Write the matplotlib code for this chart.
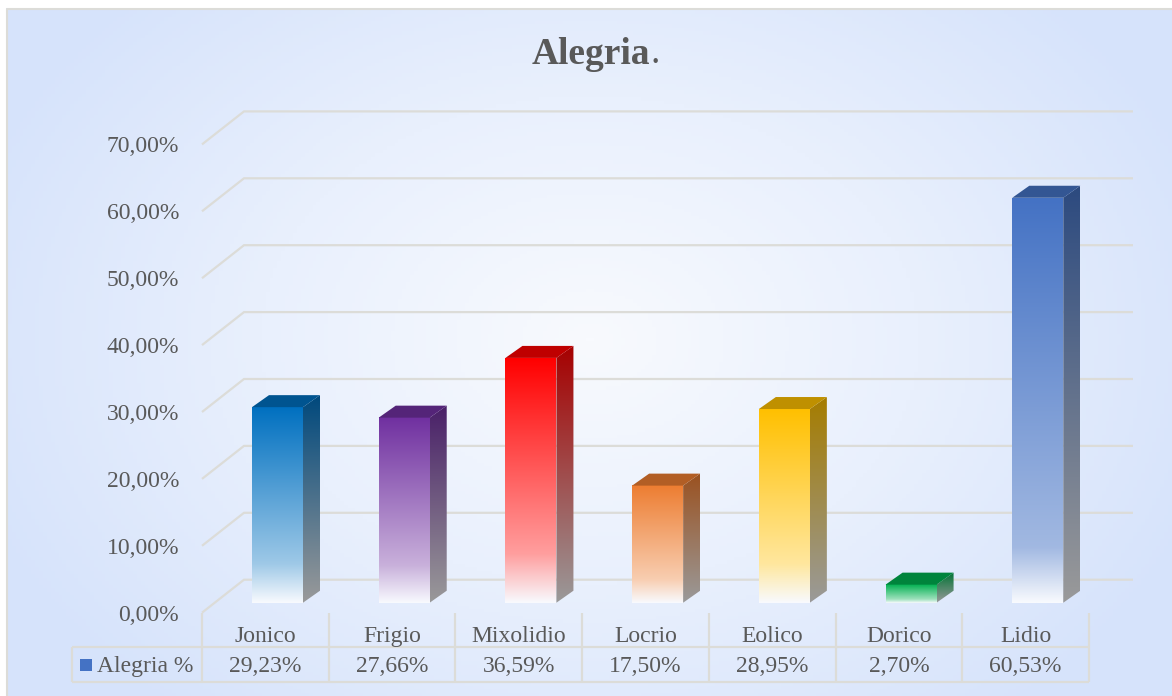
import numpy as np
import matplotlib
matplotlib.use('Agg')
import matplotlib.pyplot as plt
from matplotlib.colors import LinearSegmentedColormap, to_rgb
from matplotlib.patches import Polygon, Rectangle

plt.rcParams['font.family'] = ['Liberation Serif', 'DejaVu Serif']
plt.rcParams['lines.solid_capstyle'] = 'butt'

# DATA
modes = ['Jonico', 'Frigio', 'Mixolidio', 'Locrio', 'Eolico', 'Dorico', 'Lidio']
alegria = [29.23, 27.66, 36.59, 17.50, 28.95, 2.70, 60.53]
value_labels = ['29,23%', '27,66%', '36,59%', '17,50%', '28,95%', '2,70%', '60,53%']
bar_colors = ['#0070c0', '#7030a0', '#ff0000', '#ed7d31', '#ffc000', '#00b050', '#4472c4']
y_ticks = [0, 10, 20, 30, 40, 50, 60, 70]
y_tick_labels = ['0,00%', '10,00%', '20,00%', '30,00%', '40,00%', '50,00%', '60,00%', '70,00%']

W, H = 1172, 696
TEXT = '#595959'
LINE = '#dcdcd8'
FONT = 17

fig = plt.figure(figsize=(W / 100, H / 100), dpi=100)

# 1. BACKGROUND
bg = fig.add_axes([0, 0, 1, 1], zorder=0)
bg.set_xlim(0, W)
bg.set_ylim(H, 0)
bg.axis('off')
xx, yy = np.meshgrid(np.linspace(0, W, 300), np.linspace(0, H, 200))
r = np.clip(np.hypot((xx - 590) / 660, (yy - 340) / 490), 0, 1)
bg_cmap = LinearSegmentedColormap.from_list('bg', ['#f8fafe', '#e9f0fd', '#d6e3fb'])
im = bg.imshow(r, extent=[0, W, H, 0], cmap=bg_cmap, vmin=0, vmax=1, aspect='auto')
bg.add_patch(Rectangle((0, 0), W, 8, color='white', lw=0, zorder=3))
bg.add_patch(Rectangle((0, 0), 6, H, color='white', lw=0, zorder=3))
bg.plot([6.5, 6.5, W], [H, 8.5, 8.5], color=LINE, lw=1.5, zorder=4)

# 2. MAIN AXES = front plane of the 3D box
left, right, y0, y70 = 202, 1089, 612.7, 144.4
ax = fig.add_axes([left / W, 1 - y0 / H, (right - left) / W, (y0 - y70) / H], zorder=1)
ax.patch.set_alpha(0)
for s in ax.spines.values():
    s.set_visible(False)

col_px = (right - left) / 7
pct_px = (y0 - y70) / 70
def px_x(p):
    return p / col_px
def px_y(p):
    return p / pct_px

wall_dx, wall_dy = px_x(42), px_y(33)
wall_end = px_x(1133 - left)

# gridlines on floor/back wall
for v in y_ticks:
    ax.plot([0, wall_dx, wall_end], [v, v + wall_dy, v + wall_dy], color=LINE, lw=1.6,
            clip_on=False, zorder=1, solid_joinstyle='miter')


def gradient(stops):
    return LinearSegmentedColormap.from_list('g', stops)


def darker(c, f):
    return tuple(x * f for x in to_rgb(c))


# bars
bar_off, bar_w = px_x(50), px_x(51)
dep_x, dep_y = px_x(17), px_y(12)
base = px_y(10)
for i, (val, col) in enumerate(zip(alegria, bar_colors)):
    x0 = i + bar_off
    x1 = x0 + bar_w
    b, t = base, base + val
    ramp = np.linspace(0, 1, 256).reshape(-1, 1)
    # tall bars keep their colour longer, the fade is about 55 px whatever the height
    brk = max(0.8, 1 - 55 / (val * pct_px))
    mix = 0.62 if brk == 0.8 else 0.5
    light = tuple((1 - mix) * a + mix for a in to_rgb(col))
    front_cmap = gradient([(0, col), (brk, light), (1, '#f8fafe')])
    ax.imshow(ramp, extent=[x0, x1, b, t], origin='upper', cmap=front_cmap, aspect='auto',
              zorder=3, clip_on=False)
    # side face
    side_cmap = gradient([(0, darker(col, 0.65)), (1, '#9a9a9a')])
    side = Polygon([(x1, b), (x1, t), (x1 + dep_x, t + dep_y), (x1 + dep_x, b + dep_y)],
                   closed=True, transform=ax.transData, fc='none', ec='none')
    ax.add_patch(side)
    s_im = ax.imshow(ramp, extent=[x1, x1 + dep_x, b, t + dep_y], origin='upper', cmap=side_cmap,
                     aspect='auto', zorder=3)
    s_im.set_clip_path(side)
    # top face
    ax.add_patch(Polygon([(x0, t), (x1, t), (x1 + dep_x, t + dep_y), (x0 + dep_x, t + dep_y)],
                         closed=True, fc=darker(col, 0.75), ec='none', zorder=3, clip_on=False))

ax.set_xlim(0, 7)
ax.set_ylim(0, 70)

# 3. TICKS
ax.set_yticks(y_ticks)
ax.set_yticklabels(y_tick_labels, fontsize=FONT, color=TEXT)
ax.tick_params(axis='y', length=0, pad=16.5)
ax.set_xticks(np.arange(7) + 0.5)
ax.set_xticklabels(modes, fontsize=FONT, color=TEXT)
ax.tick_params(axis='x', length=0, pad=9.5)

# 4. DATA TABLE
row1, row2 = -px_y(34), -px_y(69)
leg_x = -px_x(130)
for i in range(8):
    ax.plot([i, i], [0, row2], color=LINE, lw=1.6, clip_on=False, zorder=1)
ax.plot([leg_x, 7], [row1, row1], color=LINE, lw=1.6, clip_on=False, zorder=1)
ax.plot([leg_x, 7], [row2, row2], color=LINE, lw=1.6, clip_on=False, zorder=1)
ax.plot([leg_x, leg_x], [row1, row2], color=LINE, lw=1.6, clip_on=False, zorder=1)
row_mid = (row1 + row2) / 2 - px_y(2)
for i, lab in enumerate(value_labels):
    ax.text(i + 0.5, row_mid, lab, ha='center', va='center', fontsize=FONT, color=TEXT)
ax.add_patch(Rectangle((-px_x(122), row_mid - px_y(5)), px_x(12), px_y(12), fc='#4472c4',
                       ec='none', clip_on=False, zorder=3))
ax.text(-px_x(105), row_mid, 'Alegria %', ha='left', va='center', fontsize=FONT, color=TEXT)

# 5. TITLE
bg.text(650, 54, 'Alegria', ha='right', va='center', fontsize=27, fontweight='bold', color=TEXT, zorder=5)
bg.text(650.5, 54, '.', ha='left', va='center', fontsize=27, color=TEXT, zorder=5)

fig.savefig('out.png', dpi=100)
